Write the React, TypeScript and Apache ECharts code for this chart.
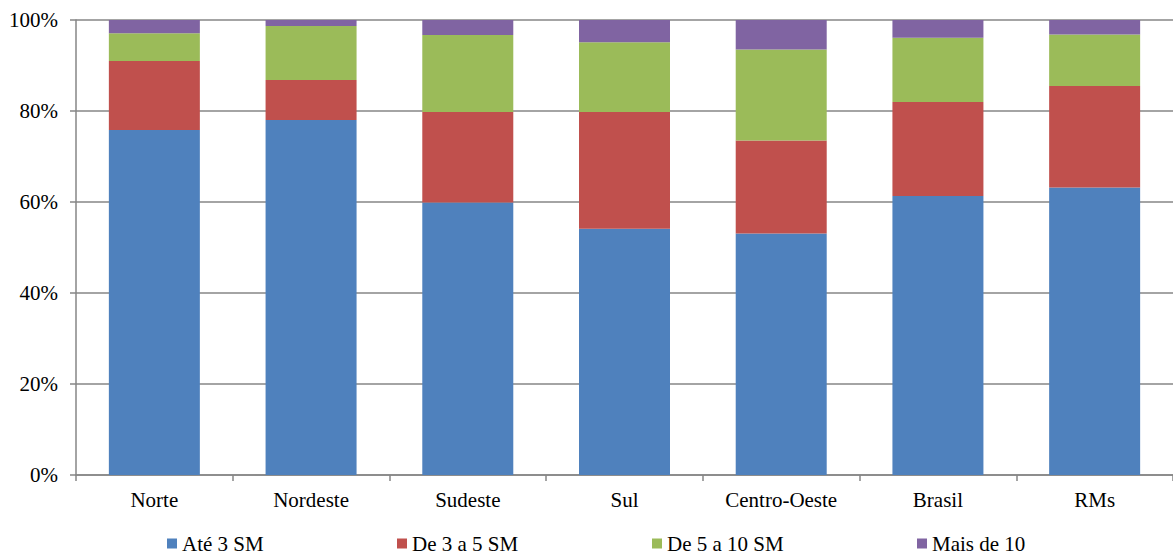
import React, { useEffect, useRef } from "react";
import * as echarts from "echarts";

const categories = ["Norte", "Nordeste", "Sudeste", "Sul", "Centro-Oeste", "Brasil", "RMs"];
const seriesNames = ["Até 3 SM", "De 3 a 5 SM", "De 5 a 10 SM", "Mais de 10"];
const ate3 = [75.8, 78.0, 59.9, 54.1, 53.1, 61.3, 63.2];
const de3a5 = [15.2, 8.8, 19.9, 25.7, 20.4, 20.7, 22.3];
const de5a10 = [6.1, 11.9, 16.9, 15.3, 20.0, 14.1, 11.3];
const mais10 = [2.9, 1.3, 3.3, 4.9, 6.5, 3.9, 3.2];
const colors = ["#4F81BD", "#C0504D", "#9BBB59", "#8064A2"];
const legendLefts = [167, 397, 652, 917];

export default function App() {
  const ref = useRef<HTMLDivElement>(null);
  useEffect(() => {
    if (!ref.current) return;
    const chart = echarts.init(ref.current, null, { renderer: "svg" });
    const font = "Liberation Serif";
    const values = [ate3, de3a5, de5a10, mais10];
    chart.setOption({
      animation: false,
      backgroundColor: "#ffffff",
      textStyle: { fontFamily: font },
      grid: { left: 76, top: 20, bottom: 79, right: -11, containLabel: false },
      legend: seriesNames.map((n, i) => ({
        data: [n],
        left: legendLefts[i],
        top: 533,
        padding: 0,
        icon: "rect",
        itemWidth: 10,
        itemHeight: 10,
        itemGap: 5,
        selectedMode: false,
        textStyle: { fontFamily: font, fontSize: 21, color: "#000", lineHeight: 21 },
      })),
      xAxis: {
        type: "category",
        data: categories,
        boundaryGap: true,
        axisLine: { lineStyle: { color: "#868686", width: 1.5 } },
        axisTick: { show: true, length: 6, lineStyle: { color: "#868686", width: 1.5 } },
        axisLabel: { fontFamily: font, fontSize: 21, color: "#000", margin: 14 },
      },
      yAxis: {
        type: "value",
        min: 0,
        max: 100,
        interval: 20,
        axisLine: { show: true, lineStyle: { color: "#868686", width: 1.5 } },
        axisTick: { show: true, length: 6, lineStyle: { color: "#868686", width: 1.5 } },
        splitLine: { show: true, lineStyle: { color: "#868686", width: 1.5 } },
        axisLabel: { fontFamily: font, fontSize: 21, color: "#000", margin: 18, formatter: "{value}%" },
      },
      series: seriesNames.map((n, i) => ({
        name: n,
        type: "bar",
        stack: "total",
        barWidth: 91,
        data: values[i],
        itemStyle: { color: colors[i] },
      })),
    });
    return () => chart.dispose();
  }, []);
  return (
    <div
      ref={ref}
      style={{ position: "absolute", left: 0, top: 0, width: 1173, height: 554 }}
    />
  );
}
